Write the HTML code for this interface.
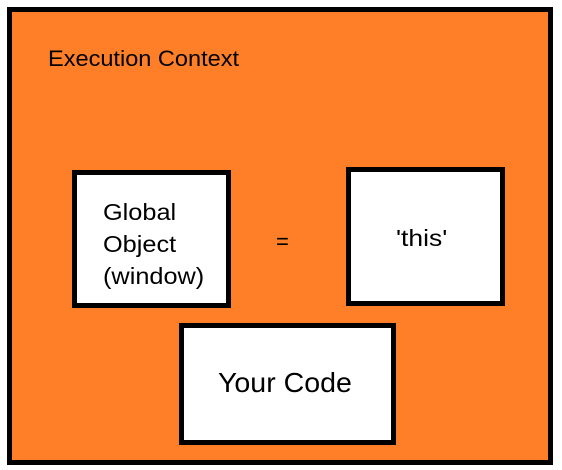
<!DOCTYPE html>
<html><head><style>
body{margin:0;width:562px;height:470px;background:#fff;position:relative;overflow:hidden;font-family:"Liberation Sans",sans-serif;color:#000}
.b{position:absolute;box-sizing:border-box;border:5px solid #000}
.t{position:absolute;white-space:nowrap;transform-origin:0 0}
</style></head><body>
<div class="b" style="left:7px;top:7px;width:546px;height:458px;background:#FE7F27"></div>
<div class="t" style="left:48px;top:46px;font-size:22px;transform:scaleX(1.07)">Execution Context</div>
<div class="b" style="left:72px;top:170px;width:159px;height:138px;background:#fff"></div>
<div class="t" style="left:103px;top:196px;font-size:23px;line-height:32px;transform:scaleX(1.1)">Global<br>Object<br>(window)</div>
<div class="t" style="left:276px;top:229px;font-size:22px">=</div>
<div class="b" style="left:346px;top:167px;width:159px;height:139px;background:#fff"></div>
<div class="t" style="left:396px;top:225px;font-size:23px;transform:scaleX(1.15)">'this'</div>
<div class="b" style="left:179px;top:323px;width:217px;height:122px;background:#fff"></div>
<div class="t" style="left:218px;top:367px;font-size:28px;transform:scaleX(1.02)">Your Code</div>
</body></html>
